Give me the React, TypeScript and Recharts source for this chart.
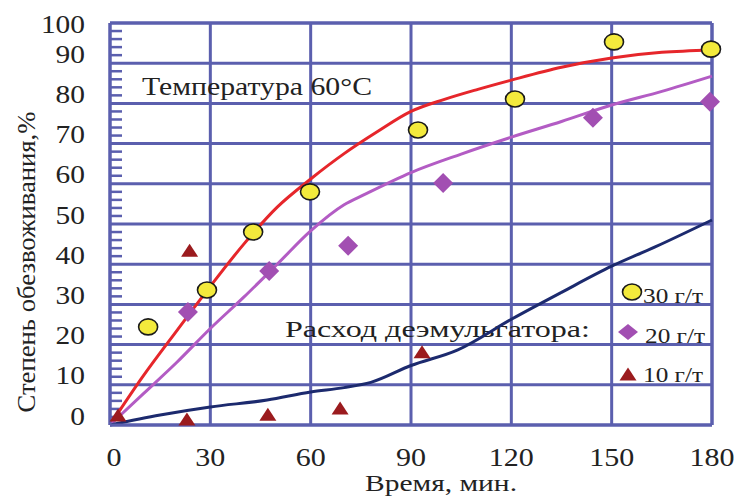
import React from "react";
import {
  ComposedChart,
  Line,
  Scatter,
  XAxis,
  YAxis,
  CartesianGrid,
  ReferenceLine,
  Legend,
  Customized,
} from "recharts";

// time axis (min) and dehydration degree axis (%)
const TIME_TICKS = [0, 30, 60, 90, 120, 150, 180];
const DEGREE_TICKS = [0, 10, 20, 30, 40, 50, 60, 70, 80, 90, 100];
const MINOR_TICKS = [
  2, 4, 6, 8, 12, 14, 16, 18, 22, 24, 26, 28, 32, 34, 36, 38, 42, 44, 46, 48,
  52, 54, 56, 58, 62, 64, 66, 68, 72, 74, 76, 78, 82, 84, 86, 88, 92, 94, 96, 98,
];

// fitted curves
const CURVE_30 = [
  { t: 0, v: 0 }, { t: 10, v: 12.3 }, { t: 20, v: 23.5 }, { t: 30, v: 34.5 },
  { t: 40, v: 45 }, { t: 50, v: 54.2 }, { t: 60, v: 61.2 }, { t: 70, v: 67.5 },
  { t: 80, v: 73 }, { t: 90, v: 78 }, { t: 100, v: 81 }, { t: 110, v: 83.5 },
  { t: 120, v: 85.8 }, { t: 135, v: 89 }, { t: 150, v: 91.3 },
  { t: 165, v: 92.7 }, { t: 180, v: 93.3 },
];
const CURVE_20 = [
  { t: 0, v: 0 }, { t: 10, v: 7.8 }, { t: 20, v: 15.6 }, { t: 30, v: 24 },
  { t: 40, v: 31.8 }, { t: 50, v: 40 }, { t: 60, v: 48.3 }, { t: 70, v: 54.8 },
  { t: 76, v: 57.3 }, { t: 90, v: 62.8 }, { t: 105, v: 67.4 }, { t: 120, v: 71.6 },
  { t: 135, v: 75.5 }, { t: 150, v: 79.6 }, { t: 165, v: 83 }, { t: 180, v: 86.8 },
];
const CURVE_10 = [
  { t: 0, v: 0 }, { t: 15, v: 2.5 }, { t: 30, v: 4.5 }, { t: 47, v: 6.2 },
  { t: 60, v: 8.2 }, { t: 70, v: 9.3 }, { t: 78, v: 10.6 }, { t: 90, v: 14.8 },
  { t: 104, v: 18.7 }, { t: 120, v: 26.3 }, { t: 135, v: 33 }, { t: 150, v: 39.5 },
  { t: 163, v: 44.3 }, { t: 180, v: 51 },
];

// measured points
const POINTS_30 = [
  { t: 11.4, v: 24.4 }, { t: 29, v: 33.6 }, { t: 42.8, v: 48 }, { t: 59.8, v: 58 },
  { t: 92.1, v: 73.4 }, { t: 121.1, v: 81.1 }, { t: 150.7, v: 95.3 },
  { t: 179.7, v: 93.5 },
];
const POINTS_20 = [
  { t: 23.3, v: 28.1 }, { t: 47.6, v: 38.3 }, { t: 71.2, v: 44.6 },
  { t: 99.6, v: 60.2 }, { t: 144.4, v: 76.4 }, { t: 179.4, v: 80.4 },
];
const POINTS_10 = [
  { t: 2.4, v: 2.5 }, { t: 23.8, v: 43.5 }, { t: 23, v: 1.5 }, { t: 47.2, v: 2.7 },
  { t: 68.8, v: 4.2 }, { t: 93.3, v: 18.2 },
];

const SERIES_LABELS = ["30 г/т", "20 г/т", "10 г/т"];

const FONT = '"Liberation Serif", "Times New Roman", serif';
const INK = "#222";
const GRID = "#5b5fae";
const RED = "#e6262b";
const PURPLE = "#b35cc4";
const NAVY = "#1c2a6e";
const YELLOW = "#f3ea3c";
const DIAMOND = "#a24fb2";
const TRIANGLE = "#9b1b1e";

const MARGIN = { top: 23, right: 23, bottom: 0, left: 50 };
const Y_AXIS_W = 60;
const X_AXIS_H = 71;
const CHART_H = 496;
const PLOT_LEFT = MARGIN.left + Y_AXIS_W;
const PLOT_TOP = MARGIN.top;
const PLOT_BOTTOM = CHART_H - MARGIN.bottom - X_AXIS_H;

function circleMark(cx: number, cy: number) {
  return <ellipse cx={cx} cy={cy} rx={9.5} ry={8} fill={YELLOW} stroke="#1a1a1a" strokeWidth={1.6} />;
}
function diamondMark(cx: number, cy: number, w = 10, h = 10) {
  return <polygon points={`${cx},${cy - h} ${cx + w},${cy} ${cx},${cy + h} ${cx - w},${cy}`} fill={DIAMOND} />;
}
function triangleMark(cx: number, cy: number) {
  return <polygon points={`${cx},${cy - 6.5} ${cx + 8.5},${cy + 6.5} ${cx - 8.5},${cy + 6.5}`} fill={TRIANGLE} />;
}

const YTick = (props: any) => {
  const { x, y, payload } = props;
  const s = String(payload.value);
  const yy = payload.value === 100 ? y + 10 : y - 0.5;
  return (
    <text x={x} y={yy} textAnchor="end" fontFamily={FONT} fontSize={26} fill={INK}
      textLength={s.length * 14.7} lengthAdjust="spacingAndGlyphs">
      {s}
    </text>
  );
};

const XTick = (props: any) => {
  const { x, y, payload } = props;
  const s = String(payload.value);
  return (
    <text x={x + (payload.value === 0 ? 4 : 0)} y={y + 41} textAnchor="middle" fontFamily={FONT}
      fontSize={26} fill={INK} textLength={s.length * 15} lengthAdjust="spacingAndGlyphs">
      {s}
    </text>
  );
};

const LegendBox = () => (
  <svg width={110} height={120} style={{ display: "block" }}>
    {circleMark(20, 16)}
    {diamondMark(16, 56, 10, 8)}
    {triangleMark(16, 98)}
    {SERIES_LABELS.map((label, i) => (
      <text key={label} x={31 + (i === 1 ? 2 : 0)} y={27 + i * 39.5} fontFamily={FONT} fontSize={21}
        fill={INK} textLength={60} lengthAdjust="spacingAndGlyphs">
        {label}
      </text>
    ))}
  </svg>
);

// inward comb of minor ticks on the left axis, every 2 %
const MinorComb = () => {
  const step = (PLOT_BOTTOM - PLOT_TOP) / 100;
  return (
    <g>
      {MINOR_TICKS.map((v) => {
        const y = PLOT_BOTTOM - v * step;
        return (
          <rect key={v} x={PLOT_LEFT} y={y - 1.25} width={12} height={2.5} fill={GRID} />
        );
      })}
    </g>
  );
};

const Annotations = () => (
  <g fontFamily={FONT} fill={INK}>
    <MinorComb />
    <text x={142} y={95} fontSize={26} textLength={230} lengthAdjust="spacingAndGlyphs">
      Температура 60°C
    </text>
    <text x={285} y={337} fontSize={24} textLength={305} lengthAdjust="spacingAndGlyphs">
      Расход деэмульгатора:
    </text>
    <text x={441} y={491} fontSize={24} textAnchor="middle" textLength={152} lengthAdjust="spacingAndGlyphs">
      Время, мин.
    </text>
    <text transform="translate(35,262) rotate(-90)" fontSize={25} textAnchor="middle"
      textLength={301} lengthAdjust="spacingAndGlyphs">
      Степень обезвоживания,%
    </text>
  </g>
);

export default function App() {
  return (
    <div style={{ position: "absolute", left: 0, top: 0, width: 735, height: CHART_H, background: "#fff" }}>
      <ComposedChart width={735} height={CHART_H} margin={MARGIN}>
        <CartesianGrid stroke={GRID} strokeWidth={3} />
        <XAxis dataKey="t" type="number" domain={[0, 180]} ticks={TIME_TICKS} height={X_AXIS_H}
          tickSize={0} tickMargin={0} tick={XTick} axisLine={{ stroke: GRID, strokeWidth: 3 }} tickLine={false} />
        <YAxis dataKey="v" type="number" domain={[0, 100]} ticks={DEGREE_TICKS} width={Y_AXIS_W}
          tickSize={0} tickMargin={25} tick={YTick} axisLine={{ stroke: GRID, strokeWidth: 3 }} tickLine={false} />
        <ReferenceLine y={100} stroke={GRID} strokeWidth={3} />
        <ReferenceLine x={180} stroke={GRID} strokeWidth={3} />
        <Line data={CURVE_30} dataKey="v" type="monotone" stroke={RED} strokeWidth={3} dot={false} isAnimationActive={false} />
        <Line data={CURVE_20} dataKey="v" type="monotone" stroke={PURPLE} strokeWidth={3} dot={false} isAnimationActive={false} />
        <Line data={CURVE_10} dataKey="v" type="monotone" stroke={NAVY} strokeWidth={3} dot={false} isAnimationActive={false} />
        <Scatter data={POINTS_10} dataKey="v" isAnimationActive={false}
          shape={(p: any) => triangleMark(p.cx, p.cy)} />
        <Scatter data={POINTS_20} dataKey="v" isAnimationActive={false}
          shape={(p: any) => diamondMark(p.cx, p.cy)} />
        <Scatter data={POINTS_30} dataKey="v" isAnimationActive={false}
          shape={(p: any) => circleMark(p.cx, p.cy)} />
        <Customized component={Annotations} />
        <Legend layout="vertical" align="center" verticalAlign="middle" content={LegendBox}
          wrapperStyle={{ left: 612, top: 276, width: 110, height: 120 }} />
      </ComposedChart>
    </div>
  );
}
